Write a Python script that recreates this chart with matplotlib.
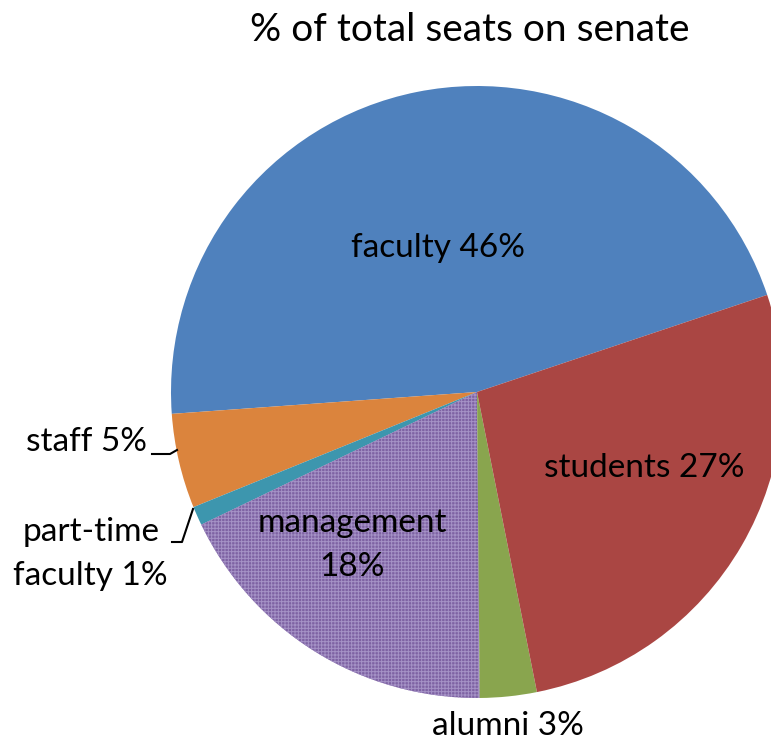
import matplotlib
matplotlib.use("Agg")
import matplotlib.pyplot as plt

categories = ["faculty", "staff", "part-time\nfaculty", "management", "alumni", "students"]
values = [46, 5, 1, 18, 3, 27]
colors = ["#4F81BD", "#DB843D", "#3D96AE", "#7E62A3", "#89A54E", "#AA4643"]

W, H = 771, 744
matplotlib.rcParams["hatch.linewidth"] = 0.7
fig = plt.figure(figsize=(W / 100, H / 100), dpi=100)
ax = fig.add_axes([0, 0, 1, 1])

font = "Lato"
cx, cy, R = 477, H - 392, 306
wedges, _ = ax.pie(values, colors=colors, startangle=18.5, counterclock=True,
                   center=(cx, cy), radius=R, frame=True,
                   wedgeprops=dict(linewidth=0))
ax.set_xlim(0, W)
ax.set_ylim(0, H)
ax.set_aspect("equal")
ax.axis("off")
# textured management slice
wedges[3].set_hatch("+++++")
wedges[3].set_edgecolor("#A592C6")
wedges[3].set_linewidth(0)

def lab(i):
    return f"{categories[i]} {values[i]}%"

fs = 24
ax.text(470, H - 30, "% of total seats on senate", ha="center", va="center",
        fontsize=28, family=font)
ax.text(438, H - 248, lab(0), ha="center", va="center", fontsize=fs, family=font)
ax.text(644, H - 468, lab(5), ha="center", va="center", fontsize=fs, family=font)
ax.text(508, H - 726, lab(4), ha="center", va="center", fontsize=fs, family=font)
ax.text(352, H - 545, f"{categories[3]}\n{values[3]}%", ha="center", va="center",
        fontsize=fs, family=font, linespacing=1.6)
ax.text(147, H - 442, lab(1), ha="right", va="center", fontsize=fs, family=font)
ax.text(168, H - 554, f"part-time\nfaculty {values[2]}%", ha="right", va="center",
        multialignment="center", fontsize=fs, family=font, linespacing=1.6)

# leader lines
ax.plot([152, 170, 177], [H - 454, H - 454, H - 450], color="black", lw=1.5)
ax.plot([172, 182, 193], [H - 542, H - 542, H - 509], color="black", lw=1.5)

fig.savefig("out.png", dpi=100)
